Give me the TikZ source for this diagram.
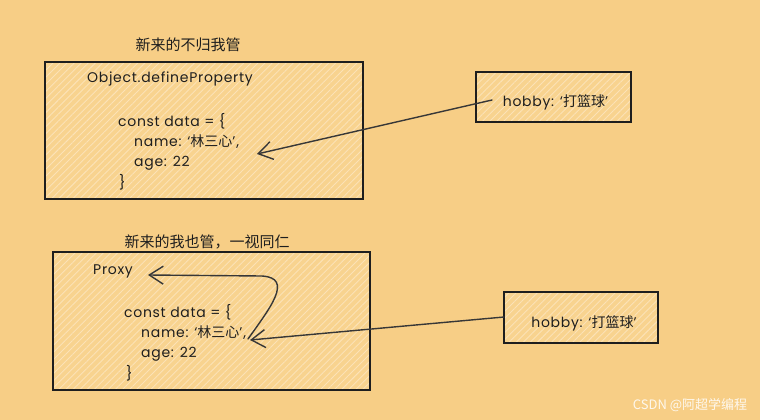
\documentclass[tikz,border=0pt]{standalone}
\usepackage{fontspec}
\setmainfont{Poppins}[LetterSpace=5]
\newfontfamily\cjk{Noto Sans CJK SC}
\usetikzlibrary{patterns.meta,arrows.meta}
\definecolor{bg}{RGB}{247,206,134}
\definecolor{boxfill}{RGB}{248,211,143}
\definecolor{hatch}{RGB}{252,226,182}
\definecolor{ink}{RGB}{30,30,30}
\definecolor{lineink}{RGB}{55,55,55}
\tikzset{
  box/.style={draw=ink, line width=1.1pt, preaction={fill=boxfill},
    pattern={Lines[angle=45,distance=5pt,line width=0.9pt]}, pattern color=hatch,
    inner sep=0pt},
  title/.style={font=\cjk\fontsize{15}{18}\selectfont, text=ink, inner sep=0pt},
  code/.style={font=\fontsize{14}{17}\selectfont, text=ink, inner sep=0pt, anchor=west},
  arr/.style={draw=lineink, line width=1.4pt, line cap=round,
    -{Straight Barb[length=14pt,width=18pt,line width=1.4pt]}},
  wmark/.style={font=\cjk\fontsize{13}{15}\selectfont, text=white, opacity=0.85, inner sep=0pt}
}
\begin{document}
\begin{tikzpicture}[x=1pt,y=-1pt]
\useasboundingbox (0,0) rectangle (760,420);
\fill[bg] (0,0) rectangle (760,420);

% top section
\node[title] (t1) at (188,45) {新来的不归我管};
\node[box, minimum width=318pt, minimum height=137pt] (b1) at (204,130.5) {};
\node[code] (op) at (87,79) {Object.defineProperty};
\node[code] (c1) at (118,121) {const data = \{};
\node[code] (n1) at (134,142) {name: ‘{\cjk 林三心}’,};
\node[code] (g1) at (134,163) {age: 22};
\node[code] (e1) at (119,182) {\}};

\node[box, minimum width=155pt, minimum height=50pt] (b2) at (553.5,97) {};
\node[code, anchor=center] (h1) at (555.5,102) {hobby: ‘{\cjk 打篮球}’};

\coordinate (a1s) at (492,100);
\coordinate (a1e) at (257,154);
\draw[arr] (a1s) -- (a1e);

% bottom section
\node[title] (t2) at (207,242) {新来的我也管，一视同仁};
\node[box, minimum width=317pt, minimum height=138pt] (b3) at (211.5,321) {};
\node[code] (px) at (93,271) {Proxy};
\node[code] (c2) at (124,312) {const data = \{};
\node[code] (n2) at (141,333) {name: ‘{\cjk 林三心}’,};
\node[code] (g2) at (141,354) {age: 22};
\node[code] (e2) at (126,373) {\}};

\node[box, minimum width=154pt, minimum height=51pt] (b4) at (581,317.5) {};
\node[code, anchor=center] (h2) at (584,323) {hobby: ‘{\cjk 打篮球}’};

\coordinate (a2s) at (504,317);
\coordinate (a2e) at (250,340);
\draw[arr] (a2s) -- (a2e);

\coordinate (cs) at (248,339);
\coordinate (ct) at (262,276);
\coordinate (ce) at (148,275);
\draw[arr] (cs) .. controls (270,308) and (294,278) .. (ct) -- (ce);

\node[wmark] (wm) at (690,405) {CSDN @阿超学编程};
\end{tikzpicture}
\end{document}
